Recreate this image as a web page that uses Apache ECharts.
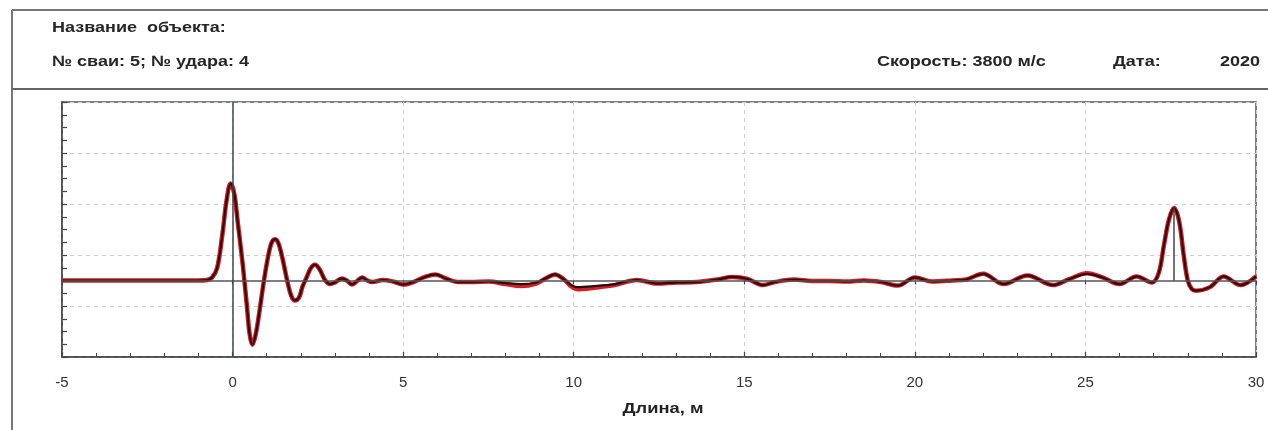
<!DOCTYPE html>
<html>
<head>
<meta charset="utf-8">
<script src="https://cdn.jsdelivr.net/npm/echarts@6/dist/echarts.min.js"></script>
<style>
html,body{margin:0;padding:0;background:#fff;}
#c{width:1268px;height:430px;}
</style>
</head>
<body>
<div id="c"></div>
<script>
// Distance along pile, m
var xs = [-5,-1.0,-0.75,-0.6,-0.45,-0.3,-0.18,-0.06,0.05,0.15,0.3,0.42,0.5,0.58,0.68,0.8,0.92,1.05,1.15,1.25,1.35,1.48,1.6,1.72,1.83,1.95,2.05,2.15,2.3,2.42,2.55,2.7,2.85,3.0,3.2,3.35,3.5,3.65,3.8,3.95,4.1,4.4,4.7,5.0,5.3,5.6,5.95,6.25,6.6,7.0,7.5,8.0,8.45,8.9,9.2,9.45,9.7,9.9,10.1,10.6,11.2,11.85,12.45,13.0,13.6,14.2,14.65,15.1,15.55,15.9,16.45,17.0,17.5,18.0,18.5,19.0,19.5,20.0,20.5,21.1,21.5,22.0,22.6,23.3,24.05,24.5,25.05,25.5,26.0,26.5,26.95,27.15,27.3,27.45,27.6,27.75,27.88,28.0,28.12,28.25,28.65,29.05,29.55,30];
// Reflectogram (red trace)
var redVals = [0,0,0.01,0.06,0.25,0.9,1.55,1.9,1.7,1.15,0.3,-0.5,-1.05,-1.26,-1.05,-0.55,0,0.5,0.75,0.81,0.72,0.38,0.0,-0.3,-0.39,-0.33,-0.12,0.03,0.25,0.31,0.22,0.02,-0.07,-0.04,0.04,0,-0.08,-0.01,0.06,0.0,-0.03,0.01,-0.02,-0.08,-0.03,0.06,0.12,0.04,-0.03,-0.03,-0.02,-0.07,-0.11,-0.06,0.05,0.12,0.03,-0.1,-0.17,-0.14,-0.09,0.01,-0.06,-0.04,-0.03,0.02,0.07,0.03,-0.09,-0.03,0.02,-0.01,-0.01,-0.02,0.0,-0.03,-0.1,0.06,-0.02,0.0,0.02,0.13,-0.07,0.1,-0.09,0.02,0.14,0.06,-0.07,0.08,-0.04,0.15,0.69,1.2,1.42,1.15,0.5,0,-0.17,-0.2,-0.13,0.08,-0.09,0.08];
// Reflectogram (dark trace)
var darkVals = [0,0,0.01,0.06,0.25,0.9,1.55,1.9,1.7,1.15,0.3,-0.5,-1.05,-1.26,-1.05,-0.55,0,0.5,0.75,0.81,0.72,0.38,0.0,-0.3,-0.39,-0.33,-0.12,0.03,0.25,0.31,0.22,0.02,-0.07,-0.04,0.04,0,-0.08,-0.01,0.06,0.0,-0.03,0.01,-0.02,-0.08,-0.03,0.06,0.12,0.04,-0.03,-0.03,-0.02,-0.05,-0.07,-0.04,0.05,0.12,0.03,-0.08,-0.13,-0.11,-0.07,0.01,-0.06,-0.04,-0.03,0.02,0.07,0.03,-0.09,-0.03,0.02,-0.01,-0.01,-0.02,0.0,-0.03,-0.1,0.06,-0.02,0.0,0.02,0.13,-0.07,0.1,-0.09,0.02,0.13,0.06,-0.07,0.08,-0.04,0.15,0.69,1.2,1.42,1.15,0.5,0,-0.17,-0.2,-0.13,0.08,-0.09,0.08];
var xTicks = [-5,0,5,10,15,20,25,30];
var toeMark = [27.6, 1.42];
var xAxisName = 'Длина, м';

var headerTexts = [
  {text:'Название  объекта:', x:52, y:28},
  {text:'№ сваи: 5; № удара: 4', x:52, y:62},
  {text:'Скорость: 3800 м/с', x:877, y:62},
  {text:'Дата:', x:1113, y:62},
  {text:'2020', x:1220, y:62}
];

var redData = xs.map(function(x,i){return [x, redVals[i]];});
var darkData = xs.map(function(x,i){return [x, darkVals[i]];});

var chart = echarts.init(document.getElementById('c'), null, {renderer:'canvas'});
var FONT = '"Liberation Sans", Arial, sans-serif';

var graphics = [
  {type:'line', shape:{x1:12,y1:10,x2:1268,y2:10}, style:{stroke:'#777', lineWidth:2}},
  {type:'line', shape:{x1:12,y1:10,x2:12,y2:430}, style:{stroke:'#777', lineWidth:2}},
  {type:'line', shape:{x1:12,y1:89,x2:1268,y2:89}, style:{stroke:'#666', lineWidth:2}},
  {type:'text', x:663, y:409, scaleX:1.22,
    style:{text:xAxisName, fill:'#222', font:'bold 15px '+FONT, align:'center', verticalAlign:'middle'}}
].concat(headerTexts.map(function(t){
  return {type:'text', x:t.x, y:t.y, scaleX:1.2, scaleY:1,
    style:{text:t.text, fill:'#262626', font:'bold 15px '+FONT, verticalAlign:'middle'}};
}));

chart.setOption({
  animation:false,
  backgroundColor:'#fff',
  graphic: graphics,
  grid:{left:62, right:12, top:102, bottom:73, show:true, borderColor:'#555', borderWidth:1.5, backgroundColor:'transparent'},
  xAxis:[{
    type:'value', min:-5, max:30, interval:5,
    axisLine:{show:true, onZero:false, lineStyle:{color:'#444', width:1.5}},
    axisTick:{show:true, inside:true, length:5, lineStyle:{color:'#444', width:1.2}},
    minorTick:{show:true, splitNumber:5, length:4, lineStyle:{color:'#444', width:1}},
    axisLabel:{color:'#333', fontSize:15, fontFamily:FONT, margin:18,
      formatter:function(v){return xTicks.indexOf(v)>=0 ? String(v) : '';}},
    splitLine:{show:true, lineStyle:{color:'#cfcfcf', type:[4,4], width:1}}
  },{
    type:'value', min:-5, max:30, interval:5, position:'bottom',
    axisLine:{show:false}, axisLabel:{show:false}, splitLine:{show:false},
    axisTick:{show:true, inside:false, length:4, lineStyle:{color:'#444', width:1.2}}
  }],
  yAxis:[{
    type:'value', min:-1.5, max:3.5, interval:0.25,
    axisLine:{show:true, onZero:false, lineStyle:{color:'#444', width:1.5}},
    axisTick:{show:true, inside:true, length:5, lineStyle:{color:'#444', width:1.2}},
    axisLabel:{show:false},
    splitLine:{show:false}
  },{
    type:'value', min:0, max:5, interval:1, position:'left',
    axisLine:{show:false}, axisTick:{show:false}, axisLabel:{show:false},
    splitLine:{show:true, lineStyle:{color:'#cfcfcf', type:[4,4], width:1}}
  }],
  series:[{
    type:'line', data:redData, smooth:0.35, showSymbol:false,
    lineStyle:{color:'#d21f26', width:4.5}, z:3, silent:true,
    markLine:{silent:true, symbol:'none', label:{show:false}, animation:false,
      data:[
        {yAxis:0, lineStyle:{color:'#555', width:1.5, type:'solid'}},
        {xAxis:0, lineStyle:{color:'#3c4a48', width:1.5, type:'solid'}},
        [{coord:[toeMark[0],0], lineStyle:{color:'#444', width:1.5, type:'solid'}},{coord:[toeMark[0],toeMark[1]]}]
      ]}
  },{
    type:'line', data:darkData, smooth:0.35, showSymbol:false,
    lineStyle:{color:'#2a0c0c', width:2.2}, z:4, silent:true
  }]
});
</script>
</body>
</html>
